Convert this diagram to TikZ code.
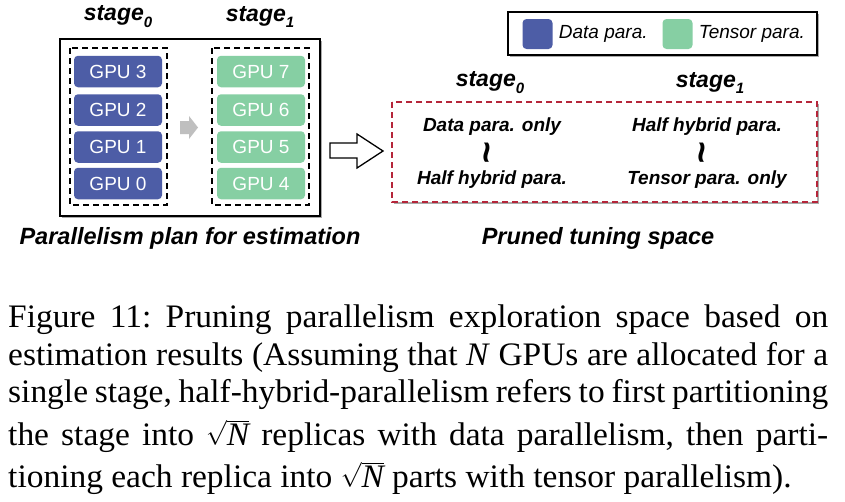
\documentclass[tikz,border=0pt]{standalone}
\usepackage{amsmath}
\usepackage{fontspec}
\setmainfont{Liberation Serif}
\setsansfont{Liberation Sans}
\newfontfamily\capfont{Liberation Serif}[FakeStretch=1.02]
\usetikzlibrary{positioning,shadows,shapes.arrows}
\definecolor{dpblue}{HTML}{4D5DA6}
\definecolor{tpgreen}{HTML}{86CFA3}
\definecolor{prunered}{HTML}{B5253A}
\newcommand{\stagelbl}[1]{\textsf{\bfseries\itshape stage\raisebox{-0.3em}{\fontsize{15}{15}\selectfont #1}}}
\newcommand{\caplinefull}[1]{\makebox[820pt][s]{#1}}
\newcommand{\capsqrt}{$\sqrt{\text{\capfont\itshape N}}$}
\newcommand{\wavy}{\rotatebox{90}{\sffamily\bfseries\fontsize{38}{38}\selectfont\char`\~}}
\tikzset{
  gpubox/.style={rectangle, rounded corners=4pt, minimum width=88pt, minimum height=31.5pt,
    inner sep=0pt, text=white, font=\sffamily\fontsize{19}{19}\selectfont},
  gpublue/.style={gpubox, fill=dpblue},
  gpugreen/.style={gpubox, fill=tpgreen},
  stagetext/.style={font=\fontsize{23}{23}\selectfont, inner sep=0pt},
  spacetext/.style={font=\sffamily\bfseries\itshape\fontsize{19}{19}\selectfont, inner sep=0pt},
  titletext/.style={font=\sffamily\bfseries\itshape\fontsize{23.5}{23.5}\selectfont, inner sep=0pt},
  captext/.style={font=\capfont\frenchspacing\fontsize{32.8}{38}\selectfont, inner sep=0pt, anchor=base west},
  boxshadow/.style={drop shadow={shadow xshift=1.5pt, shadow yshift=-2pt, fill=black!55, opacity=0.6}}
}
\begin{document}
\begin{tikzpicture}[x=1pt, y=-1pt]
  \useasboundingbox (0,0) rectangle (845,501);
  % Parallelism plan for estimation
  \draw[line width=1.8pt, fill=white, boxshadow] (60,39) rectangle (320,216);
  \draw[line width=1.3pt, dash pattern=on 6pt off 4pt] (70,48) rectangle (167,205);
  \draw[line width=1.3pt, dash pattern=on 6pt off 4pt] (212,48) rectangle (309,205);
  \node[stagetext] (s0) at (118,17) {\stagelbl{0}};
  \node[stagetext] (s1) at (260,17) {\stagelbl{1}};
  \foreach \i/\y in {3/71.5, 2/110, 1/147, 0/183.5} {
    \node[gpublue] (gpu\i) at (118,\y) {GPU \i};
    \pgfmathtruncatemacro{\j}{\i+4}
    \node[gpugreen] (gpu\j) at (261,\y) {GPU \j};
  }
  \fill[black!25] (180,121) -- (189,121) -- (189,116) -- (198,127.5) -- (189,139)
    -- (189,134) -- (180,134) -- cycle;
  \node[titletext] (plan) at (190,238) {Parallelism plan for estimation};
  % big arrow
  \draw[line width=1.3pt, fill=white, line join=miter] (330,143) -- (357,143) -- (357,134)
    -- (383,151) -- (357,168) -- (357,158) -- (330,158) -- cycle;
  % Legend
  \draw[line width=1.2pt, fill=white, boxshadow] (508,12) rectangle (817,55);
  \node[fill=dpblue, rounded corners=4pt, minimum size=30pt, inner sep=0pt] (lgdp) at (537.5,34) {};
  \node[spacetext, font=\sffamily\itshape\fontsize{19}{19}\selectfont, right=6pt of lgdp] (lgdptxt) {Data para.};
  \node[fill=tpgreen, rounded corners=4pt, minimum size=30pt, inner sep=0pt] (lgtp) at (677.5,34) {};
  \node[spacetext, font=\sffamily\itshape\fontsize{19}{19}\selectfont, right=6pt of lgtp] (lgtptxt) {Tensor para.};
  % Pruned tuning space
  \node[stagetext] (ps0) at (490,83) {\stagelbl{0}};
  \node[stagetext] (ps1) at (710,83) {\stagelbl{1}};
  \draw[prunered, line width=1.5pt, dash pattern=on 6pt off 4pt, fill=white, boxshadow]
    (392,102) rectangle (817,202);
  \node[spacetext] (d0a) at (492,127) {Data para. only};
  \node[spacetext] (d0w) at (492,153) {\wavy};
  \node[spacetext] (d0b) at (492,180) {Half hybrid para.};
  \node[spacetext] (d1a) at (707,127) {Half hybrid para.};
  \node[spacetext] (d1w) at (707,153) {\wavy};
  \node[spacetext] (d1b) at (707,180) {Tensor para. only};
  \node[titletext] (pruned) at (598,238) {Pruned tuning space};
  % Caption
  \node[captext] (cap1) at (8,327) {\caplinefull{Figure 11: Pruning parallelism exploration space based on}};
  \node[captext] (cap2) at (8,365) {\caplinefull{estimation results (Assuming that \textit{N} GPUs are allocated for a}};
  \node[captext] (cap3) at (8,402) {\caplinefull{single stage, half-hybrid-parallelism refers to first partitioning}};
  \node[captext] (cap4) at (8,445) {\caplinefull{the stage into \capsqrt{} replicas with data parallelism, then parti-}};
  \node[captext] (cap5) at (8,487) {tioning each replica into \capsqrt{} parts with tensor parallelism).};
\end{tikzpicture}
\end{document}
